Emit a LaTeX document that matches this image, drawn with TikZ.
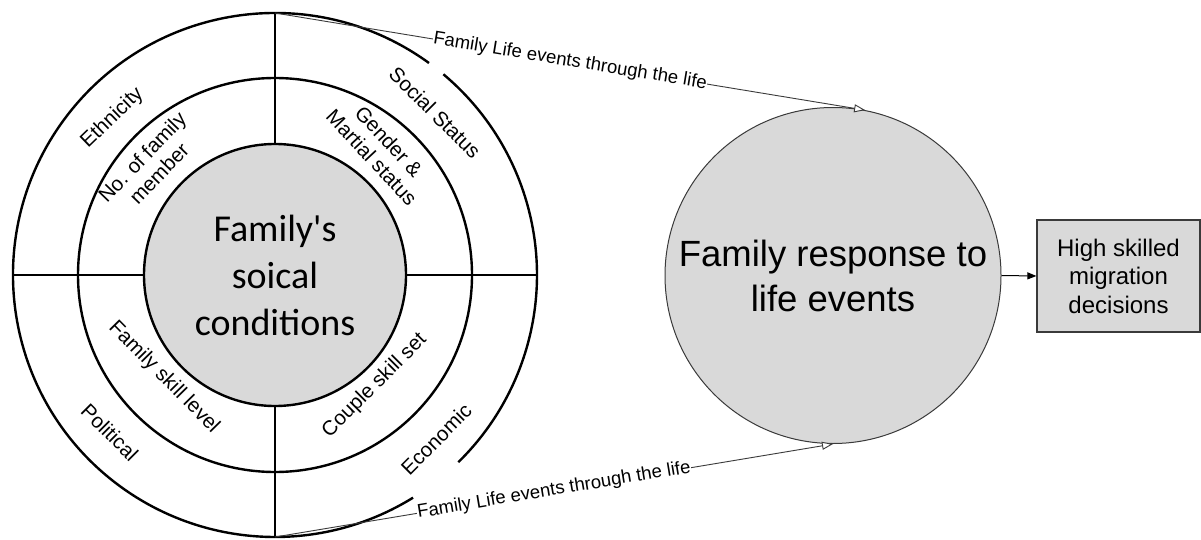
\documentclass[tikz,border=0pt]{standalone}
\usepackage{fontspec}
\setmainfont{Liberation Sans}
\newfontfamily\calibri{Carlito}
\usetikzlibrary{arrows.meta}
\definecolor{fillgray}{HTML}{D9D9D9}
\definecolor{edgegray}{HTML}{3A3A3A}

\begin{document}
\begin{tikzpicture}[x=1pt,y=1pt,
  ring/.style={line width=2.4pt, black},
  ringlabel/.style={font=\fontsize{20.5}{23.5}\selectfont, align=center, inner sep=0pt},
  eventline/.style={line width=0.9pt, edgegray, -{Triangle[fill=white, length=11pt, width=8pt]}},
  eventlabel/.style={font=\fontsize{18.5}{21}\selectfont, text=black, fill=white, inner sep=0.5pt, sloped, pos=0.5}
]
\useasboundingbox (0,0) rectangle (1201,539);

% concentric rings of social conditions
\coordinate (C) at (275,264);
\node[circle, minimum size=524pt, inner sep=0pt, outer sep=0pt] (outer) at (C) {};
\node[circle, draw, ring, minimum size=394pt, inner sep=0pt, outer sep=0pt] (middle) at (C) {};
\node[circle, draw, ring, fill=fillgray, minimum size=262pt, inner sep=0pt, outer sep=0pt,
      font=\calibri\fontsize{38}{47}\selectfont, align=center] (core) at (C) {Family's\\soical\\conditions};

% outer ring, open on the right where the life-event lines leave
\draw[ring] ([shift={(54:262)}]C) arc[start angle=54, end angle=301.8, radius=262];
\draw[ring] ([shift={(-45.6:262)}]C) arc[start angle=-45.6, end angle=50, radius=262];

% quadrant dividers
\draw[ring] (outer.north) -- (core.north);
\draw[ring] (core.south) -- (outer.south);
\draw[ring] (outer.west) -- (core.west);
\draw[ring] (core.east) -- (outer.east);

% ring labels
\node[ringlabel, rotate=44] (ethnicity) at ([shift={(136:226)}]C) {Ethnicity};
\node[ringlabel, rotate=46] (members) at ([shift={(138.6:166)}]C) {No. of family\\member};
\node[ringlabel, rotate=-45] (social) at ([shift={(45.4:228)}]C) {Social Status};
\node[ringlabel, rotate=-47] (gender) at ([shift={(50:164)}]C) {Gender \&\\Martial status};
\node[ringlabel, rotate=-45.5] (famskill) at ([shift={(222.6:151)}]C) {Family skill level};
\node[ringlabel, rotate=-45] (political) at ([shift={(223.6:228)}]C) {Political};
\node[ringlabel, rotate=45] (couple) at ([shift={(-48:149)}]C) {Couple skill set};
\node[ringlabel, rotate=45] (economic) at ([shift={(-45.5:230)}]C) {Economic};

% response and decision
\node[circle, draw=edgegray, line width=1pt, fill=fillgray, minimum size=336pt, inner sep=0pt,
      font=\fontsize{36.5}{45}\selectfont, align=center] (resp) at (833,263.5) {Family response to\\life events};
\node[draw=edgegray, line width=1.2pt, fill=fillgray, minimum width=163pt, minimum height=112pt,
      inner sep=0pt, font=\fontsize{24}{28.5}\selectfont, align=center] (decide) at (1118.5,263) {High skilled\\migration\\decisions};
\draw[line width=1pt, -{Triangle[length=9pt, width=7pt]}] (resp.east) -- (decide.west);

% life-event connectors
\draw[eventline] (outer.north) -- node[eventlabel] (toplabel) {Family Life events through the life} (resp.79);
\draw[eventline] (outer.south) -- node[eventlabel] (botlabel) {Family Life events through the life} (resp.-90);
\end{tikzpicture}
\end{document}
